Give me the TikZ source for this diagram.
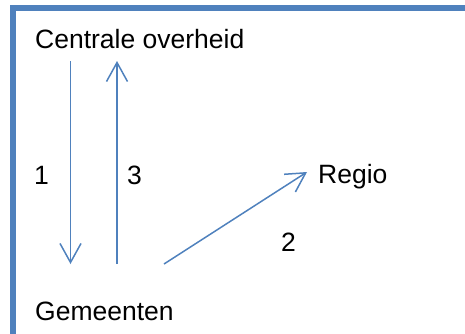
\documentclass[tikz,border=0pt]{standalone}
\usepackage{fontspec}
\setmainfont{Liberation Sans}
\usetikzlibrary{arrows.meta}
\definecolor{officeblue}{RGB}{79,129,189}
\begin{document}
\begin{tikzpicture}[x=1pt,y=-1pt,
  lbl/.style={inner sep=0pt,anchor=base west,font=\fontsize{26.5}{30}\selectfont,text=black},
  conn/.style={draw=officeblue,line width=1.5pt,-{Straight Barb[length=19pt,width=21pt,line width=1.5pt]}},
  frame/.style={draw=officeblue,line width=5.5pt}]
\useasboundingbox (0,0) rectangle (465,333);
\draw[frame] (13,340) -- (13,8) -- (470,8);
\node[lbl] (co) at (35,48) {Centrale overheid};
\node[lbl] (gem) at (35,320) {Gemeenten};
\node[lbl] (reg) at (318,183) {Regio};
\node[lbl] (n1) at (34,184) {1};
\node[lbl] (n3) at (127,184) {3};
\node[lbl] (n2) at (281,251) {2};
\coordinate (a1s) at (70.5,61);
\coordinate (a1e) at (70.5,264);
\coordinate (a3s) at (117,264);
\coordinate (a3e) at (117,61);
\coordinate (a2s) at (164,264);
\coordinate (a2e) at (307,172);
\draw[conn] (a1s) -- (a1e);
\draw[conn] (a3s) -- (a3e);
\draw[conn] (a2s) -- (a2e);
\end{tikzpicture}
\end{document}
